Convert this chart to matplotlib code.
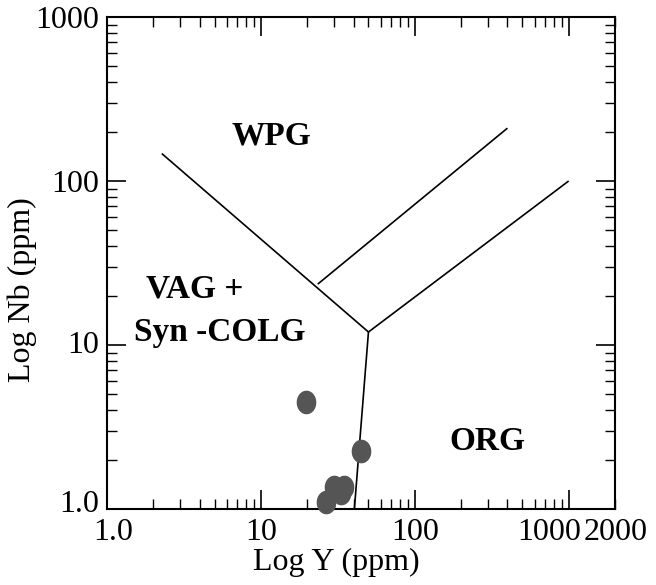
import numpy as np
import matplotlib
matplotlib.use("Agg")
import matplotlib.pyplot as plt
from matplotlib.path import Path
from matplotlib.ticker import FixedLocator, NullFormatter, LogLocator
import matplotlib.transforms as mtransforms

# Data (ppm)
y_ppm = [19.5, 45, 30, 34.5, 33, 26.3]
nb_ppm = [4.5, 2.25, 1.36, 1.36, 1.25, 1.1]

# Discrimination boundaries (Y, Nb)
line_vag_wpg_y = [2.27, 50]
line_vag_wpg_nb = [147, 12]
line_wpg_org_y = [23.4, 400]
line_wpg_org_nb = [23.5, 210]
line_orog_y = [50, 1000]
line_orog_nb = [12, 100]
line_vag_org_y = [50, 40.5]
line_vag_org_nb = [12, 1.0]

region_labels = ["WPG", "VAG +", "Syn -COLG", "ORG"]
region_pos = [(6.4, 187), (1.79, 21.8), (1.49, 11.9), (169, 2.57)]

x_ticks = [1, 10, 100, 1000, 2000]
x_ticklabels = ["1.0", "10", "100", "1000", "2000"]
y_ticks = [1, 10, 100, 1000]
y_ticklabels = ["1.0", "10", "100", "1000"]

plt.rcParams['font.family'] = ['Liberation Serif', 'DejaVu Serif']

W, H = 656, 585
fig = plt.figure(figsize=(W / 100, H / 100), dpi=100)
ax = fig.add_axes([107 / W, 1 - 509 / H, 508 / W, 492 / H])
ax.set_xscale('log')
ax.set_yscale('log')
ax.set_xlim(1, 2000)
ax.set_ylim(1, 1000)

lw = 1.2
for xs, ys in [(line_vag_wpg_y, line_vag_wpg_nb), (line_wpg_org_y, line_wpg_org_nb),
               (line_orog_y, line_orog_nb), (line_vag_org_y, line_vag_org_nb)]:
    ax.plot(xs, ys, color='black', lw=lw, solid_capstyle='butt', clip_on=False)

theta = np.linspace(0, 2 * np.pi, 60)
ell = Path(np.column_stack([0.82 * np.cos(theta), np.sin(theta)]))
ax.plot(y_ppm, nb_ppm, linestyle='none', marker=ell, markersize=16,
        markerfacecolor='#555555', markeredgecolor='#555555', clip_on=False, zorder=5)

for lab, (px, py) in zip(region_labels, region_pos):
    ax.text(px, py, lab, fontsize=24, fontweight='bold', ha='left', va='center')

ax.xaxis.set_major_locator(FixedLocator([1, 10, 100, 1000]))
ax.xaxis.set_minor_locator(LogLocator(base=10, subs=np.arange(2, 10)))
ax.yaxis.set_minor_locator(LogLocator(base=10, subs=np.arange(2, 10)))
ax.xaxis.set_major_formatter(NullFormatter())
ax.xaxis.set_minor_formatter(NullFormatter())
ax.yaxis.set_minor_formatter(NullFormatter())
ax.yaxis.set_major_locator(FixedLocator(y_ticks))
ax.yaxis.set_major_formatter(NullFormatter())

# x tick labels (baseline below axis), with small horizontal nudges as in reference
x_nudge_px = [6, 0, 0, -19, 1]
trans_x = ax.get_xaxis_transform()
for xv, lab, dx in zip(x_ticks, x_ticklabels, x_nudge_px):
    tr = trans_x + mtransforms.ScaledTranslation(dx / 100, 0, fig.dpi_scale_trans)
    ax.text(xv, -31 / 492, lab, fontsize=23, ha='center', va='baseline', transform=tr)

# y tick labels
y_nudge_px = [8, 3, 0, 0]
trans_y = ax.get_yaxis_transform()
for yv, lab, dy in zip(y_ticks, y_ticklabels, y_nudge_px):
    tr = trans_y + mtransforms.ScaledTranslation(0, dy / 100, fig.dpi_scale_trans)
    ax.text(-8 / 508, yv, lab, fontsize=23, ha='right', va='center_baseline', transform=tr)

ax.tick_params(which='both', direction='in', top=True, right=True, pad=4)
ax.tick_params(which='major', length=14, width=1.2)
ax.tick_params(which='minor', length=7, width=1.0)
for s in ax.spines.values():
    s.set_linewidth(1.5)

fig.text(336 / W, 1 - 570 / H, "Log Y (ppm)", fontsize=23, ha='center', va='baseline')
fig.text(22 / W, 1 - 290 / H, "Log Nb (ppm)", fontsize=23, ha='center', va='center',
         rotation=90)

fig.savefig("out.png", dpi=100)
